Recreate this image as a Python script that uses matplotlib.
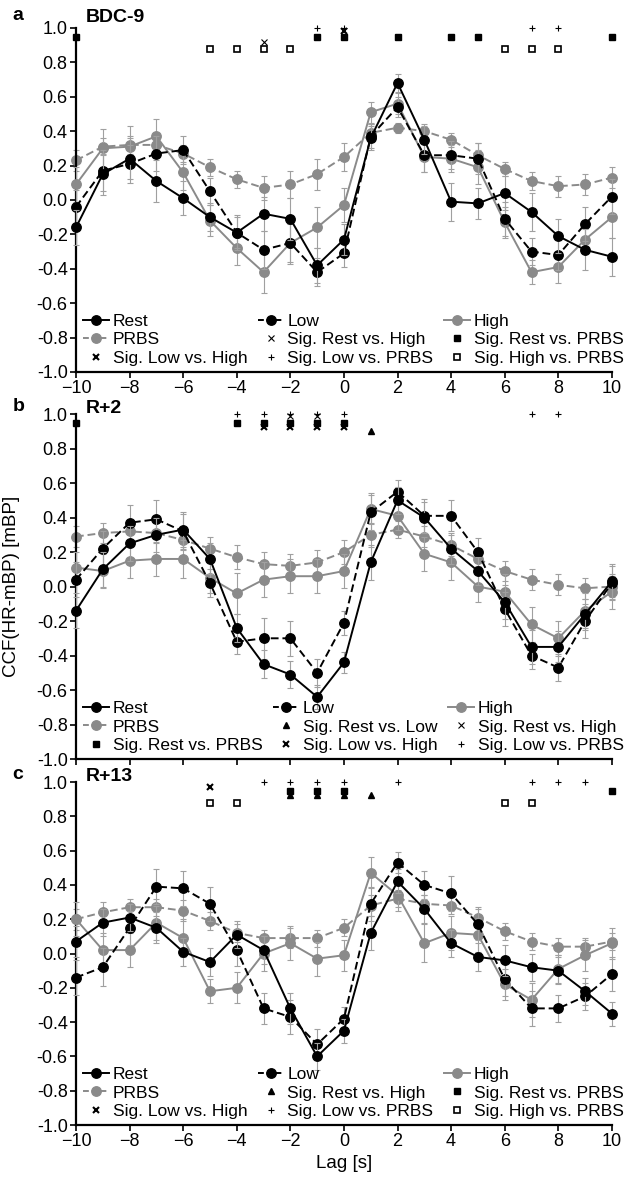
import matplotlib
matplotlib.use("Agg")
import matplotlib.pyplot as plt
from matplotlib.lines import Line2D

plt.rcParams['font.family'] = ['Liberation Sans', 'DejaVu Sans']

lags = list(range(-10, 11))

# panel a: BDC-9
bdc9_rest = [-0.16, 0.15, 0.24, 0.11, 0.01, -0.10, -0.19, -0.08, -0.11, -0.38, -0.23, 0.36, 0.68, 0.35, -0.01, -0.02, 0.04, -0.07, -0.21, -0.29, -0.33]
bdc9_rest_err = [0.10, 0.12, 0.12, 0.12, 0.10, 0.08, 0.10, 0.10, 0.12, 0.10, 0.09, 0.07, 0.05, 0.08, 0.11, 0.09, 0.10, 0.11, 0.10, 0.12, 0.11]
bdc9_low = [-0.04, 0.17, 0.21, 0.27, 0.29, 0.05, -0.19, -0.29, -0.25, -0.42, -0.31, 0.37, 0.54, 0.26, 0.26, 0.24, -0.11, -0.30, -0.32, -0.14, 0.02]
bdc9_low_err = [0.10, 0.12, 0.11, 0.10, 0.08, 0.08, 0.09, 0.11, 0.11, 0.08, 0.08, 0.07, 0.06, 0.10, 0.08, 0.09, 0.10, 0.08, 0.09, 0.10, 0.10]
bdc9_high = [0.09, 0.30, 0.31, 0.37, 0.16, -0.12, -0.28, -0.42, -0.25, -0.16, -0.03, 0.51, 0.56, 0.25, 0.24, 0.19, -0.13, -0.42, -0.39, -0.23, -0.10]
bdc9_high_err = [0.10, 0.11, 0.12, 0.10, 0.10, 0.09, 0.10, 0.12, 0.12, 0.12, 0.10, 0.06, 0.06, 0.09, 0.08, 0.10, 0.09, 0.07, 0.09, 0.08, 0.12]
bdc9_prbs = [0.23, 0.31, 0.32, 0.32, 0.27, 0.19, 0.12, 0.07, 0.09, 0.15, 0.25, 0.39, 0.42, 0.40, 0.35, 0.26, 0.18, 0.11, 0.08, 0.09, 0.13]
bdc9_prbs_err = [0.06, 0.05, 0.05, 0.05, 0.05, 0.05, 0.05, 0.07, 0.08, 0.09, 0.08, 0.05, 0.03, 0.04, 0.04, 0.07, 0.04, 0.05, 0.06, 0.06, 0.06]

# panel b: R+2
r2_rest = [-0.14, 0.10, 0.25, 0.30, 0.33, 0.16, -0.24, -0.45, -0.51, -0.64, -0.44, 0.14, 0.50, 0.40, 0.22, 0.09, -0.09, -0.35, -0.35, -0.16, 0.03]
r2_rest_err = [0.10, 0.10, 0.10, 0.10, 0.10, 0.09, 0.08, 0.08, 0.08, 0.07, 0.06, 0.10, 0.08, 0.09, 0.09, 0.08, 0.10, 0.10, 0.09, 0.09, 0.10]
r2_low = [0.04, 0.22, 0.37, 0.39, 0.32, 0.02, -0.32, -0.30, -0.30, -0.50, -0.21, 0.43, 0.55, 0.41, 0.41, 0.20, -0.13, -0.40, -0.47, -0.20, 0.02]
r2_low_err = [0.10, 0.10, 0.10, 0.11, 0.10, 0.08, 0.07, 0.12, 0.10, 0.08, 0.07, 0.10, 0.07, 0.10, 0.09, 0.08, 0.10, 0.08, 0.08, 0.10, 0.10]
r2_high = [0.11, 0.09, 0.15, 0.16, 0.16, 0.05, -0.04, 0.04, 0.06, 0.06, 0.09, 0.45, 0.41, 0.19, 0.14, 0.00, -0.03, -0.22, -0.30, -0.14, -0.03]
r2_high_err = [0.09, 0.10, 0.10, 0.10, 0.11, 0.09, 0.12, 0.10, 0.10, 0.10, 0.10, 0.09, 0.08, 0.10, 0.10, 0.09, 0.10, 0.10, 0.10, 0.10, 0.10]
r2_prbs = [0.29, 0.31, 0.32, 0.31, 0.27, 0.22, 0.17, 0.13, 0.12, 0.14, 0.20, 0.30, 0.33, 0.29, 0.24, 0.16, 0.09, 0.04, 0.01, -0.01, 0.00]
r2_prbs_err = [0.06, 0.06, 0.06, 0.06, 0.06, 0.07, 0.07, 0.07, 0.07, 0.07, 0.07, 0.07, 0.05, 0.06, 0.06, 0.06, 0.06, 0.06, 0.06, 0.06, 0.06]

# panel c: R+13
r13_rest = [0.07, 0.18, 0.21, 0.15, 0.01, -0.05, 0.11, 0.02, -0.32, -0.60, -0.45, 0.12, 0.42, 0.26, 0.06, -0.02, -0.04, -0.08, -0.10, -0.22, -0.35]
r13_rest_err = [0.09, 0.08, 0.08, 0.09, 0.08, 0.08, 0.08, 0.08, 0.09, 0.08, 0.07, 0.10, 0.07, 0.08, 0.08, 0.08, 0.09, 0.08, 0.08, 0.08, 0.07]
r13_low = [-0.14, -0.08, 0.15, 0.39, 0.38, 0.29, 0.02, -0.32, -0.37, -0.53, -0.38, 0.29, 0.53, 0.40, 0.35, 0.17, -0.15, -0.32, -0.32, -0.25, -0.12]
r13_low_err = [0.10, 0.11, 0.10, 0.10, 0.10, 0.10, 0.09, 0.09, 0.10, 0.09, 0.07, 0.10, 0.06, 0.08, 0.10, 0.09, 0.10, 0.10, 0.08, 0.08, 0.10]
r13_high = [0.20, 0.02, 0.02, 0.18, 0.09, -0.22, -0.20, 0.00, 0.06, -0.03, -0.01, 0.47, 0.34, 0.06, 0.12, 0.11, -0.18, -0.27, -0.09, -0.01, 0.06]
r13_high_err = [0.10, 0.10, 0.10, 0.10, 0.11, 0.07, 0.09, 0.10, 0.10, 0.10, 0.09, 0.09, 0.09, 0.11, 0.10, 0.10, 0.09, 0.10, 0.08, 0.09, 0.09]
r13_prbs = [0.20, 0.24, 0.27, 0.27, 0.25, 0.19, 0.12, 0.09, 0.09, 0.09, 0.15, 0.28, 0.32, 0.29, 0.28, 0.21, 0.13, 0.07, 0.04, 0.04, 0.07]
r13_prbs_err = [0.06, 0.06, 0.05, 0.05, 0.06, 0.05, 0.05, 0.05, 0.06, 0.05, 0.05, 0.06, 0.05, 0.05, 0.05, 0.06, 0.05, 0.05, 0.05, 0.05, 0.05]

# significance markers (lags)
bdc9_sig_rest_prbs = [-10, -1, 0, 2, 4, 5, 10]
bdc9_sig_high_prbs = [-5, -4, -3, -2, 6, 7, 8]
bdc9_sig_low_prbs = [-1, 0, 7, 8]
bdc9_sig_rest_high = [-3]
bdc9_sig_low_high = [0]

r2_sig_rest_prbs = [-10, -4, -3, -2, -1, 0]
r2_sig_low_prbs = [-4, -3, -2, -1, 0, 7, 8]
r2_sig_low_high = [-3, -2, -1, 0]
r2_sig_rest_high = [-2, -1]
r2_sig_rest_low = [1]

r13_sig_rest_prbs = [-2, -1, 0, 10]
r13_sig_low_prbs = [-3, -2, -1, 0, 2, 7, 8, 9]
r13_sig_rest_high = [-2, -1, 0, 1]
r13_sig_low_high = [-5]
r13_sig_high_prbs = [-5, -4, 6, 7]

GRAY = '#8a8a8a'
ERR = '#a0a0a0'

sig_style = {
    'rest_low': dict(marker='^', ms=4, color='k', y=0.905),
    'rest_high': dict(marker='x', ms=4, mew=0.8, color='k', y=0.92),
    'rest_prbs': dict(marker='s', ms=4.5, color='k', y=0.95),
    'low_high': dict(marker='x', ms=4, mew=1.5, color='k', y=0.935),
    'low_prbs': dict(marker='+', ms=5, mew=0.8, color='k', y=1.0),
    'high_prbs': dict(marker='s', ms=4.5, mfc='white', mew=1.2, color='k', y=0.875),
}
# in panel c the triangle marks Rest vs. High
sig_style_c_rest_high = dict(marker='^', ms=4, color='k', y=0.925)


def series(ax, vals, errs, color, ls, z):
    ax.errorbar(lags, vals, yerr=errs, color=color, ls=ls, lw=1.4, marker='o', ms=6.8,
                ecolor=ERR, elinewidth=0.8, capsize=2, capthick=0.8,
                dashes=(4, 2) if ls == '--' else (None, None), zorder=z, clip_on=False)


def sig_handle(st):
    kw = {k: v for k, v in st.items() if k != 'y'}
    return Line2D([], [], ls='none', mec='k', **kw)


def sig_marks(ax, xs, st):
    kw = {k: v for k, v in st.items() if k != 'y'}
    ax.plot(xs, [st['y']] * len(xs), ls='none', mec='k', clip_on=False, zorder=6, **kw)


fig = plt.figure(figsize=(6.29, 11.79), dpi=100)
ax_a = fig.add_axes([0.1208, 0.6845, 0.852, 0.2918])
ax_b = fig.add_axes([0.1208, 0.3562, 0.852, 0.2926])
ax_c = fig.add_axes([0.1208, 0.0458, 0.852, 0.2909])

panels = [
    (ax_a, 'a', 'BDC-9', 1.029, bdc9_rest, bdc9_rest_err, bdc9_low, bdc9_low_err, bdc9_high, bdc9_high_err, bdc9_prbs, bdc9_prbs_err),
    (ax_b, 'b', 'R+2', 1.016, r2_rest, r2_rest_err, r2_low, r2_low_err, r2_high, r2_high_err, r2_prbs, r2_prbs_err),
    (ax_c, 'c', 'R+13', 1.016, r13_rest, r13_rest_err, r13_low, r13_low_err, r13_high, r13_high_err, r13_prbs, r13_prbs_err),
]

h_rest = Line2D([], [], color='k', ls='-', lw=1.4, marker='o', ms=6.8)
h_low = Line2D([], [], color='k', ls='--', dashes=(3, 1.5), lw=1.4, marker='o', ms=6.8)
h_high = Line2D([], [], color=GRAY, ls='-', lw=1.4, marker='o', ms=6.8)
h_prbs = Line2D([], [], color=GRAY, ls='--', dashes=(3, 1.5), lw=1.4, marker='o', ms=6.8)

for ax, letter, title, ty, rest, rest_e, low, low_e, high, high_e, prbs, prbs_e in panels:
    series(ax, prbs, prbs_e, GRAY, '--', 2)
    series(ax, high, high_e, GRAY, '-', 3)
    series(ax, low, low_e, 'k', '--', 4)
    series(ax, rest, rest_e, 'k', '-', 5)

    ax.set_xlim(-10, 10)
    ax.set_ylim(-1.0, 1.0)
    ax.set_yticks([-1.0, -0.8, -0.6, -0.4, -0.2, 0.0, 0.2, 0.4, 0.6, 0.8, 1.0])
    ax.set_yticklabels([f'{v:.1f}' for v in ax.get_yticks()])
    ax.set_xticks(range(-10, 11, 2))
    for s in ['top', 'right']:
        ax.spines[s].set_visible(False)
    ax.spines['left'].set_linewidth(1.6)
    ax.spines['bottom'].set_linewidth(1.6)
    ax.tick_params(direction='out', length=4, width=1.2, labelsize=13, pad=2)
    ax.text(-0.118, ty + 0.006, letter, transform=ax.transAxes, fontsize=14, fontweight='bold',
            ha='left', va='center')
    ax.text(0.019, ty, title, transform=ax.transAxes, fontsize=14, fontweight='bold',
            ha='left', va='center')

ax_b.tick_params(labelbottom=False)

# significance markers
sig_marks(ax_a, bdc9_sig_rest_prbs, sig_style['rest_prbs'])
sig_marks(ax_a, bdc9_sig_high_prbs, sig_style['high_prbs'])
sig_marks(ax_a, bdc9_sig_low_prbs, sig_style['low_prbs'])
sig_marks(ax_a, bdc9_sig_rest_high, sig_style['rest_high'])
sig_marks(ax_a, bdc9_sig_low_high, dict(sig_style['low_high'], y=0.985))

sig_marks(ax_b, r2_sig_rest_prbs, sig_style['rest_prbs'])
sig_marks(ax_b, r2_sig_low_prbs, sig_style['low_prbs'])
sig_marks(ax_b, r2_sig_low_high, dict(sig_style['low_high'], y=0.925))
sig_marks(ax_b, r2_sig_rest_high, dict(sig_style['rest_high'], y=0.99))
sig_marks(ax_b, r2_sig_rest_low, dict(sig_style['rest_low'], y=0.90))

sig_marks(ax_c, r13_sig_rest_prbs, sig_style['rest_prbs'])
sig_marks(ax_c, r13_sig_low_prbs, sig_style['low_prbs'])
sig_marks(ax_c, r13_sig_rest_high, sig_style_c_rest_high)
sig_marks(ax_c, r13_sig_low_high, dict(sig_style['low_high'], y=0.97))
sig_marks(ax_c, r13_sig_high_prbs, sig_style['high_prbs'])


def colmajor(items, ncol=3):
    rows = [items[i:i + ncol] for i in range(0, len(items), ncol)]
    return [r[c] for c in range(ncol) for r in rows]


legend_a = [(h_rest, 'Rest'), (h_low, 'Low'), (h_high, 'High'),
            (h_prbs, 'PRBS'), (sig_handle(sig_style['rest_high']), 'Sig. Rest vs. High'),
            (sig_handle(sig_style['rest_prbs']), 'Sig. Rest vs. PRBS'),
            (sig_handle(sig_style['low_high']), 'Sig. Low vs. High'),
            (sig_handle(sig_style['low_prbs']), 'Sig. Low vs. PRBS'),
            (sig_handle(sig_style['high_prbs']), 'Sig. High vs. PRBS')]
legend_b = [(h_rest, 'Rest'), (h_low, 'Low'), (h_high, 'High'),
            (h_prbs, 'PRBS'), (sig_handle(sig_style['rest_low']), 'Sig. Rest vs. Low'),
            (sig_handle(sig_style['rest_high']), 'Sig. Rest vs. High'),
            (sig_handle(sig_style['rest_prbs']), 'Sig. Rest vs. PRBS'),
            (sig_handle(sig_style['low_high']), 'Sig. Low vs. High'),
            (sig_handle(sig_style['low_prbs']), 'Sig. Low vs. PRBS')]
legend_c = [(h_rest, 'Rest'), (h_low, 'Low'), (h_high, 'High'),
            (h_prbs, 'PRBS'), (sig_handle(sig_style_c_rest_high), 'Sig. Rest vs. High'),
            (sig_handle(sig_style['rest_prbs']), 'Sig. Rest vs. PRBS'),
            (sig_handle(sig_style['low_high']), 'Sig. Low vs. High'),
            (sig_handle(sig_style['low_prbs']), 'Sig. Low vs. PRBS'),
            (sig_handle(sig_style['high_prbs']), 'Sig. High vs. PRBS')]

for ax, items in [(ax_a, legend_a), (ax_b, legend_b), (ax_c, legend_c)]:
    items = colmajor(items)
    ax.legend([h for h, _ in items], [l for _, l in items], loc='lower left',
              bbox_to_anchor=(0.01, 0.012, 1.015, 0.2), mode='expand', ncol=3, frameon=False,
              fontsize=12.5, handlelength=1.5, handletextpad=0.2, borderpad=0.1,
              borderaxespad=0.0, labelspacing=0.2, columnspacing=0.5)

ax_b.set_ylabel('CCF(HR-mBP) [mBP]', fontsize=13.5)
ax_b.yaxis.set_label_coords(-0.105, 0.5)
ax_c.set_xlabel('Lag [s]', fontsize=13.5, labelpad=3)

fig.savefig('out.png', dpi=100)
